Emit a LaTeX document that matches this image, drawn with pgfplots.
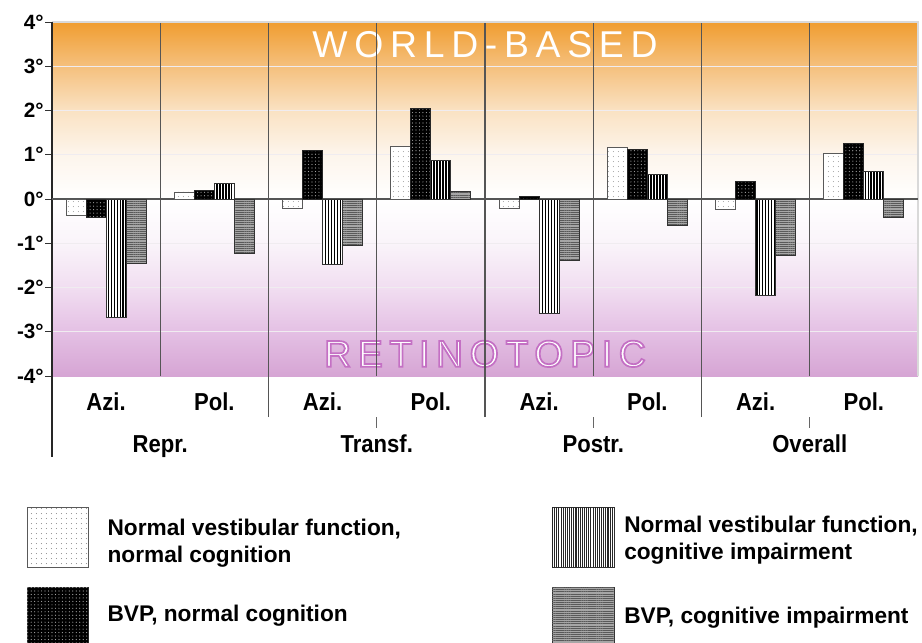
\documentclass[border=0pt]{standalone}
\usepackage{fontspec}
\setmainfont{Liberation Sans}
\newfontfamily\narrowfont[FakeStretch=0.9]{Liberation Sans}
\newfontfamily\spacedfont[LetterSpace=18]{Liberation Sans}
\usepackage{pgfplots}
\pgfplotsset{compat=1.18}
\usetikzlibrary{patterns.meta}

\definecolor{o4}{RGB}{240,157,48}
\definecolor{o3}{RGB}{245,192,125}
\definecolor{o2}{RGB}{250,226,195}
\definecolor{o1}{RGB}{253,245,236}
\definecolor{p1}{RGB}{250,244,250}
\definecolor{p2}{RGB}{241,222,241}
\definecolor{p3}{RGB}{228,192,228}
\definecolor{p4}{RGB}{214,165,212}
\definecolor{gridc}{RGB}{240,236,240}
\definecolor{sepc}{RGB}{85,85,85}

\tikzset{
 sWhite/.style={draw=black!65, line width=0.6pt, fill=white, postaction={pattern={Dots[distance=4pt, radius=0.4pt]}, pattern color=black!55}},
 sBlack/.style={draw=black!85, line width=0.6pt, fill=black, postaction={pattern={Dots[distance=2.6pt, radius=0.45pt]}, pattern color=white!65!black}},
 sVert/.style={draw=black!80, line width=0.6pt, fill=white, postaction={pattern={Lines[angle=90, distance=2.2pt, line width=1.1pt]}, pattern color=black}},
 sVertL/.style={draw=black!80, line width=0.6pt, fill=white, postaction={pattern={Lines[angle=90, distance=1.6pt, line width=0.8pt]}, pattern color=black!85}},
 sHorz/.style={draw=black!80, line width=0.6pt, fill=black!35, postaction={pattern={Lines[angle=0, distance=1.6pt, line width=0.6pt]}, pattern color=black!65}},
}

\newcommand{\retino}{\spacedfont\fontsize{28}{30}\selectfont
  \special{pdf:literal direct 0.77 0.44 0.77 RG 1.3 w 2 Tr}RETINOTOPIC\special{pdf:literal direct 0 Tr}}
\newcommand{\legfont}{\fontsize{17}{20}\selectfont\bfseries}
\newcommand{\catfont}{\fontsize{18.4}{20}\selectfont\narrowfont\bfseries}

\pgfplotstableread{
x    nn     bn     ni     bi
0.5  -0.37  -0.41  -2.67  -1.45
1.5   0.16   0.20   0.35  -1.22
2.5  -0.22   1.09  -1.47  -1.05
3.5   1.20   2.04   0.865  0.17
4.5  -0.22   0.05  -2.58  -1.39
5.5   1.16   1.11   0.565 -0.60
6.5  -0.24   0.39  -2.17  -1.28
7.5   1.02   1.25   0.63  -0.42
}\datatable

\begin{document}
\begin{tikzpicture}
\useasboundingbox (0,0) rectangle (691.5pt,-482.25pt);
\begin{axis}[
 at={(39pt,-282pt)}, anchor=south west,
 scale only axis, width=649.5pt, height=265.5pt,
 xmin=0, xmax=8, ymin=-4, ymax=4,
 ybar=0pt, bar width=15pt,
 clip=false,
 axis line style={draw=none},
 xtick={0.5,1.5,...,7.5},
 xticklabels={Azi.,Pol.,Azi.,Pol.,Azi.,Pol.,Azi.,Pol.},
 xtick style={draw=none},
 xticklabel style={anchor=base, yshift=-21pt, font=\catfont},
 ytick={-4,...,4},
 yticklabels={-4°,-3°,-2°,-1°,0°,1°,2°,3°,4°},
 ytick pos=left, tick align=outside, major tick length=5pt,
 ytick style={draw=black!80, line width=0.6pt},
 yticklabel style={font=\fontsize{15.5}{17}\selectfont\bfseries, inner xsep=1pt},
]
% background bands
\shade[top color=o4, bottom color=o3] (axis cs:0,3) rectangle (axis cs:8,4);
\shade[top color=o3, bottom color=o2] (axis cs:0,2) rectangle (axis cs:8,3);
\shade[top color=o2, bottom color=o1] (axis cs:0,1) rectangle (axis cs:8,2);
\shade[top color=o1, bottom color=white] (axis cs:0,0) rectangle (axis cs:8,1);
\shade[top color=white, bottom color=p1] (axis cs:0,-1) rectangle (axis cs:8,0);
\shade[top color=p1, bottom color=p2] (axis cs:0,-2) rectangle (axis cs:8,-1);
\shade[top color=p2, bottom color=p3] (axis cs:0,-3) rectangle (axis cs:8,-2);
\shade[top color=p3, bottom color=p4] (axis cs:0,-4) rectangle (axis cs:8,-3);
% grid
\draw[gridc, line width=1pt] (axis cs:0,3) -- (axis cs:8,3);
\draw[gridc, line width=1pt] (axis cs:0,2) -- (axis cs:8,2);
\draw[gridc, line width=1pt] (axis cs:0,1) -- (axis cs:8,1);
\draw[gridc, line width=1pt] (axis cs:0,-1) -- (axis cs:8,-1);
\draw[gridc, line width=1pt] (axis cs:0,-2) -- (axis cs:8,-2);
\draw[gridc, line width=1pt] (axis cs:0,-3) -- (axis cs:8,-3);
% titles
\node[text=white] at (axis cs:4,3.48) {\spacedfont\fontsize{28}{30}\selectfont WORLD-BASED};
\node[text=white] at (axis cs:4,-3.5) {\retino};
% separators
\draw[sepc, line width=0.9pt] (axis cs:1,-4) -- (axis cs:1,4);
\draw[sepc, line width=0.9pt] (axis cs:2,-4.93) -- (axis cs:2,4);
\draw[sepc, line width=0.9pt] (axis cs:3,-4) -- (axis cs:3,4);
\draw[sepc, line width=0.9pt] (axis cs:4,-4.93) -- (axis cs:4,4);
\draw[sepc, line width=0.9pt] (axis cs:5,-4) -- (axis cs:5,4);
\draw[sepc, line width=0.9pt] (axis cs:6,-4.93) -- (axis cs:6,4);
\draw[sepc, line width=0.9pt] (axis cs:7,-4) -- (axis cs:7,4);
\draw[black!60, line width=0.6pt] (axis cs:3,-4.93) -- (axis cs:3,-5.18);
\draw[black!60, line width=0.6pt] (axis cs:5,-4.93) -- (axis cs:5,-5.18);
\draw[black!60, line width=0.6pt] (axis cs:7,-4.93) -- (axis cs:7,-5.18);
% border
\draw[black!15, line width=0.8pt] (axis cs:0,4) -- (axis cs:8,4) -- (axis cs:8,-4);
\draw[black!85, line width=0.8pt] (axis cs:0,4) -- (axis cs:0,-5.83);
\draw[sepc, line width=0.9pt] (axis cs:0,0) -- (axis cs:8,0);
% bars
\addplot[sWhite] table[x=x, y=nn] {\datatable};
\addplot[sBlack] table[x=x, y=bn] {\datatable};
\addplot[sVert] table[x=x, y=ni] {\datatable};
\addplot[sHorz] table[x=x, y=bi] {\datatable};
% group labels
\node[anchor=base, font=\catfont] at (axis cs:1,-5.72) {Repr.};
\node[anchor=base, font=\catfont] at (axis cs:3,-5.72) {Transf.};
\node[anchor=base, font=\catfont] at (axis cs:5,-5.72) {Postr.};
\node[anchor=base, font=\catfont] at (axis cs:7,-5.72) {Overall};
\end{axis}
% legend
\path[sWhite] (20.25pt,-380.25pt) rectangle (66pt,-425.25pt);
\path[sBlack] (20.25pt,-440.25pt) rectangle (66pt,-484pt);
\path[sVertL] (414pt,-380.25pt) rectangle (460.5pt,-425.25pt);
\path[sHorz] (414pt,-440.25pt) rectangle (460.5pt,-484pt);
\node[anchor=base west, inner sep=0, font=\legfont] at (80.5pt,-401.6pt) {Normal vestibular function,};
\node[anchor=base west, inner sep=0, font=\legfont] at (80.5pt,-421.9pt) {normal cognition};
\node[anchor=base west, inner sep=0, font=\legfont] at (80.5pt,-466.1pt) {BVP, normal cognition};
\node[anchor=base west, inner sep=0, font=\legfont] at (468pt,-399.4pt) {Normal vestibular function,};
\node[anchor=base west, inner sep=0, font=\legfont] at (468pt,-419.6pt) {cognitive impairment};
\node[anchor=base west, inner sep=0, font=\legfont] at (468pt,-467.6pt) {BVP, cognitive impairment};
\end{tikzpicture}
\end{document}
